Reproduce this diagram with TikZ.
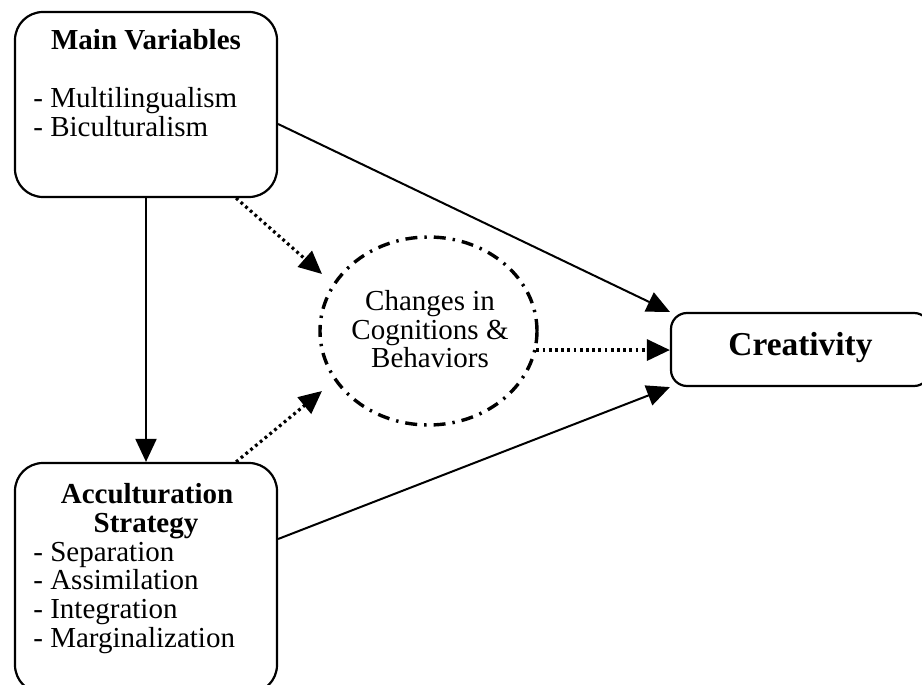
\documentclass[tikz,border=0pt]{standalone}
\usepackage{fontspec}
\setmainfont{Liberation Serif}
\usetikzlibrary{arrows.meta,shapes.geometric,calc}
\begin{document}
\begin{tikzpicture}[x=0.5pt,y=-0.5pt,
  box/.style={draw,line width=1.1pt,rounded corners=14pt,inner sep=0pt},
  txt/.style={inner sep=0pt,font=\fontsize{14.5}{14.5}\selectfont},
  btxt/.style={inner sep=0pt,font=\fontsize{14.5}{14.5}\selectfont\bfseries},
  tip/.style={-{Triangle[length=11.5pt,width=10.5pt]}},
  solidarrow/.style={line width=1pt,tip},
  dotarrow/.style={line width=1.6pt,dash pattern=on 1.4pt off 1.7pt,tip},
  dashellipse/.style={draw,ellipse,line width=1.7pt,dash pattern=on 6pt off 3.5pt on 1.2pt off 3.5pt,inner sep=0pt}
]
\useasboundingbox (0,0) rectangle (922,685);
\clip (0,0) rectangle (922,685);

% boxes
\node[box, minimum width=131pt, minimum height=92.5pt] (main) at (146,104.5) {};
\node[box, minimum width=131pt, minimum height=115pt] (acc) at (146,578) {};
\node[box, rounded corners=8pt, minimum width=129.5pt, minimum height=36.5pt] (crea) at (800.5,349.5) {};
\node[dashellipse, minimum width=108.5pt, minimum height=94pt] (ell) at (428.5,331) {};

% texts
\node[btxt, anchor=base] (mt) at (146,49) {Main Variables};
\node[txt, anchor=base west] (m1) at (33,107) {- Multilingualism};
\node[txt, anchor=base west] (m2) at (33,136) {- Biculturalism};

\node[btxt, anchor=base] (a1) at (147,503) {Acculturation};
\node[btxt, anchor=base] (a2) at (146,532) {Strategy};
\node[txt, anchor=base west] (a3) at (33,561) {- Separation};
\node[txt, anchor=base west] (a4) at (33,589) {- Assimilation};
\node[txt, anchor=base west] (a5) at (33,618) {- Integration};
\node[txt, anchor=base west] (a6) at (33,647) {- Marginalization};

\node[txt, anchor=base] (e1) at (430,310) {Changes in};
\node[txt, anchor=base] (e2) at (430,339) {Cognitions \&};
\node[txt, anchor=base] (e3) at (430,367) {Behaviors};

\node[inner sep=0pt, font=\fontsize{16.7}{16.7}\selectfont\bfseries, anchor=base] (ct) at (800.5,355) {Creativity};

% connectors
\draw[solidarrow] ([yshift=-9.75pt]main.east) -- (crea.north west);
\draw[solidarrow] ([yshift=19.5pt]acc.east) -- (crea.south west);
\draw[solidarrow] (main.south) -- (acc.north);
\draw[dotarrow] ([xshift=-21pt]main.south east) -- ($(ell.center)+(-106.5,-57)$);
\draw[dotarrow] ([xshift=-21pt]acc.north east) -- ($(ell.center)+(-106.5,60)$);
\draw[dotarrow] (ell.-10.7) -- (ell.-10.7 -| crea.west);
\end{tikzpicture}
\end{document}
